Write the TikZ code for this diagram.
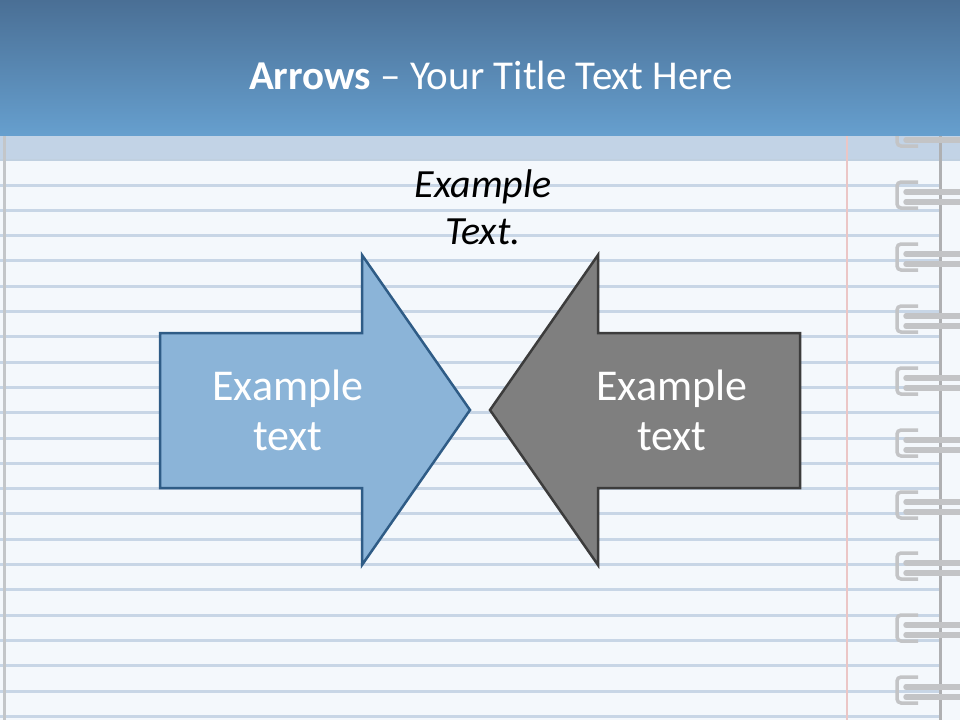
\documentclass[tikz,border=0pt]{standalone}
\usepackage{fontspec}
\setmainfont{Carlito}
\definecolor{headtop}{HTML}{4A6F95}
\definecolor{headbottom}{HTML}{669FCE}
\definecolor{bandblue}{HTML}{C2D3E6}
\definecolor{paper}{HTML}{F4F8FC}
\definecolor{lineblue}{HTML}{C8D6E6}
\definecolor{margin}{HTML}{EBC6C6}
\definecolor{ringgray}{HTML}{C3C4C6}
\definecolor{bluefill}{HTML}{8BB4D8}
\definecolor{blueedge}{HTML}{2F5C86}
\definecolor{grayfill}{HTML}{7F7F7F}
\definecolor{grayedge}{HTML}{3C3C3C}
\begin{document}
\begin{tikzpicture}[x=1pt, y=-1pt]
        % Common Styles
        \tikzset{paperline/.style={draw=lineblue, line width=3pt}}
        \tikzset{ring/.style={draw=ringgray, line width=3.5pt, rounded corners=4pt}}
        \tikzset{ringbar/.style={draw=ringgray, line width=5.5pt, line cap=round}}
        \tikzset{arrowtext/.style={text=white, align=center, font=\fontsize{44}{50}\selectfont}}
        \useasboundingbox (0,0) rectangle (960,720);

        % 1. Paper and ruling
        \fill[paper] (0,0) rectangle (960,720);
        \fill[bandblue] (0,135) rectangle (960,160);
        \draw[draw=bandblue!80!blueedge!70, line width=2pt] (0,160) -- (960,160);
        \foreach \k in {0,...,21}
            \draw[paperline] (0,{185+25.3*\k}) -- (940,{185+25.3*\k});
        \draw[draw=margin, line width=2pt] (847,135) -- (847,720);
        \draw[draw=ringgray!90!lineblue, line width=3pt] (4,135) -- (4,720);

        % 2. Spiral binding
        \draw[draw=ringgray!90!black, line width=3pt] (940,135) -- (940,720);
        \foreach \y in {133,195,257,319,381,443,505,566,628,690} {
            \draw[ring] (918,\y-13) -- (897,\y-13) -- (897,\y+13) -- (918,\y+13);
            \draw[ringbar] (906,\y-3) -- (960,\y-3);
            \draw[ringbar] (906,\y+7) -- (960,\y+7);
        }

        % 3. Header
        \shade[top color=headtop, bottom color=headbottom] (0,0) rectangle (960,135);
        \node[text=white, font=\fontsize{41}{48}\selectfont] (title) at (491,75)
            {\textbf{Arrows} -- Your Title Text Here};

        % 4. Arrows
        \filldraw[fill=bluefill, draw=blueedge, line width=2.5pt, line join=miter]
            (160,333) -- (362,333) -- (362,255) -- (470,410) -- (362,565) -- (362,488) -- (160,488) -- cycle;
        \filldraw[fill=grayfill, draw=grayedge, line width=2.5pt, line join=miter]
            (800,333) -- (598,333) -- (598,255) -- (490,410) -- (598,565) -- (598,488) -- (800,488) -- cycle;
        \node[arrowtext] (lefttext) at (288,410) {Example\\text};
        \node[arrowtext] (righttext) at (672,410) {Example\\text};
        \node[align=center, font=\fontsize{40}{47}\selectfont\itshape] (note) at (483,207) {Example\\Text.};
\end{tikzpicture}
\end{document}
